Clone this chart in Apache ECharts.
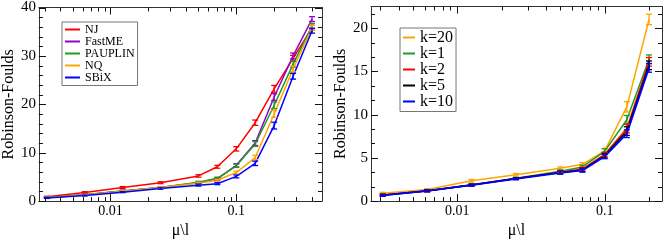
<!DOCTYPE html>
<html>
<head>
<meta charset="utf-8">
<script src="https://cdn.jsdelivr.net/npm/echarts@6/dist/echarts.min.js"></script>
<style>html,body{margin:0;padding:0;background:#fff}#c{width:664px;height:244px}</style>
</head>
<body>
<div id="c"></div>
<script>
// ---- Left panel data ----
const xLeft = [0.003125, 0.00625, 0.0125, 0.025, 0.05, 0.0707, 0.1, 0.1414, 0.2, 0.2828, 0.4];
const njY      = [0.9, 1.8, 2.8, 3.8, 5.2, 7.1, 10.8, 16.2, 23.2, 29.5, 35.8];
const njErr    = [0.1, 0.15, 0.2, 0.2, 0.25, 0.3, 0.45, 0.55, 0.7, 0.6, 0.5];
const fastmeY  = [0.75, 1.3, 2.1, 2.8, 3.8, 4.6, 7.4, 12.0, 21.5, 30.0, 37.6];
const fastmeErr= [0.1, 0.1, 0.15, 0.15, 0.2, 0.25, 0.35, 0.5, 0.7, 0.6, 0.5];
const paupY    = [0.75, 1.3, 2.1, 2.8, 3.9, 4.7, 7.3, 11.8, 19.8, 28.3, 36.2];
const paupErr  = [0.1, 0.1, 0.15, 0.15, 0.2, 0.25, 0.35, 0.5, 0.7, 0.6, 0.5];
const nqY      = [0.7, 1.25, 2.0, 2.8, 3.7, 4.3, 5.9, 9.0, 18.0, 27.3, 35.8];
const nqErr    = [0.1, 0.1, 0.15, 0.15, 0.2, 0.2, 0.3, 0.45, 0.7, 0.6, 0.5];
const sbixY    = [0.65, 1.15, 1.85, 2.6, 3.3, 3.6, 5.1, 7.8, 15.6, 25.8, 35.2];
const sbixErr  = [0.1, 0.1, 0.1, 0.15, 0.2, 0.2, 0.3, 0.45, 0.7, 0.6, 0.5];
const leftNames = ['NJ', 'FastME', 'PAUPLIN', 'NQ', 'SBiX'];

// ---- Right panel data ----
const xRight = [0.003125, 0.00625, 0.0125, 0.025, 0.05, 0.0707, 0.1, 0.1414, 0.2];
const k20Y   = [0.92, 1.35, 2.35, 3.05, 3.8, 4.25, 5.8, 10.9, 21.0];
const k20Err = [0.1, 0.1, 0.15, 0.15, 0.15, 0.2, 0.3, 0.6, 0.6];
const k1Y    = [0.72, 1.2, 1.9, 2.65, 3.45, 3.95, 5.75, 9.4, 16.4];
const k1Err  = [0.1, 0.1, 0.1, 0.1, 0.15, 0.2, 0.3, 0.5, 0.5];
const k2Y    = [0.7, 1.2, 1.85, 2.6, 3.35, 3.7, 5.4, 8.4, 16.1];
const k2Err  = [0.1, 0.1, 0.1, 0.1, 0.15, 0.2, 0.25, 0.5, 0.5];
const k5Y    = [0.68, 1.18, 1.85, 2.6, 3.3, 3.6, 5.25, 8.1, 15.7];
const k5Err  = [0.1, 0.1, 0.1, 0.1, 0.15, 0.2, 0.25, 0.5, 0.5];
const k10Y   = [0.65, 1.18, 1.84, 2.57, 3.27, 3.55, 5.15, 7.8, 15.4];
const k10Err = [0.1, 0.1, 0.1, 0.1, 0.15, 0.2, 0.25, 0.45, 0.5];
const rightNames = ['k=20', 'k=1', 'k=2', 'k=5', 'k=10'];

// ---- Axis ranges & tick values ----
const xRangeLeft = [0.0027, 0.48];
const xRangeRight = [0.0026, 0.245];
const yRangeLeft = [0, 40];
const yRangeRight = [0, 22.5];
const xMajor = [0.01, 0.1];
const xMinorLeft = [0.003,0.004,0.005,0.006,0.007,0.008,0.009,0.02,0.03,0.04,0.05,0.06,0.07,0.08,0.09,0.2,0.3,0.4];
const xMinorRight = [0.003,0.004,0.005,0.006,0.007,0.008,0.009,0.02,0.03,0.04,0.05,0.06,0.07,0.08,0.09,0.2];
const yMajorLeft = [0, 10, 20, 30, 40];
const yMinorLeft = [2,4,6,8,12,14,16,18,22,24,26,28,32,34,36,38];
const yMajorRight = [0, 5, 10, 15, 20];
const yMinorRight = [1.667,3.333,6.667,8.333,11.667,13.333,16.667,18.333,21.667];

const FONT = 'Liberation Serif';
const TICKC = '#111';
const AXLINE = {show:true, onZero:false, lineStyle:{color:'#333', width:1}};

function xAxesFor(g, range) {
  const base = {type:'log', gridIndex:g, min:range[0], max:range[1], splitLine:{show:false},
    axisLine:AXLINE, axisTick:{show:false}};
  return [
    Object.assign({}, base, {position:'bottom',
      axisLabel:{customValues:xMajor, margin:3, fontFamily:FONT, fontSize:14, color:'#000',
        formatter:function(v){return String(v);}},
      name:'μ\\l', nameLocation:'middle', nameGap:15,
      nameTextStyle:{fontFamily:FONT, fontSize:16, color:'#000'}}),
    Object.assign({}, base, {position:'top', axisLabel:{show:false}})
  ];
}
function yAxesFor(g, range, major, nameGap) {
  const base = {type:'value', gridIndex:g, min:range[0], max:range[1],
    splitLine:{show:false}, axisLine:AXLINE, axisTick:{show:false}};
  return [
    Object.assign({}, base, {position:'left',
      axisLabel:{customValues:major, margin:3, fontFamily:FONT, fontSize:15, color:'#000'},
      name:'Robinson-Foulds', nameLocation:'middle', nameGap:nameGap,
      nameTextStyle:{fontFamily:FONT, fontSize:16, color:'#000'}}),
    Object.assign({}, base, {position:'right', axisLabel:{show:false}})
  ];
}

// Major + minor ticks on all four sides, placed through the axes' own scales
function tickSeries(xi, yi, xMaj, xMin, yMaj, yMin, xRange, yRange) {
  const data = [].concat(
    xMaj.map(v => [v, yRange[0], 0, 7]),
    xMin.map(v => [v, yRange[0], 0, 4]),
    yMaj.map(v => [xRange[0], v, 1, 7]),
    yMin.map(v => [xRange[0], v, 1, 4])
  );
  return {type:'custom', xAxisIndex:xi, yAxisIndex:yi, silent:true, z:10, clip:false,
    data:data, encode:{x:0, y:1},
    renderItem:function(params, api){
      const kind = api.value(2), L = api.value(3);
      const st = {stroke:TICKC, lineWidth:1};
      if (kind === 0) {
        const v = api.value(0);
        const b = api.coord([v, yRange[0]]), t = api.coord([v, yRange[1]]);
        const x = Math.round(b[0]) + 0.5;
        return {type:'group', children:[
          {type:'line', shape:{x1:x, y1:b[1], x2:x, y2:b[1]-L}, style:st},
          {type:'line', shape:{x1:x, y1:t[1], x2:x, y2:t[1]+L}, style:st}
        ]};
      } else {
        const v = api.value(1);
        const l = api.coord([xRange[0], v]), r = api.coord([xRange[1], v]);
        const y = Math.round(l[1]) + 0.5;
        return {type:'group', children:[
          {type:'line', shape:{x1:l[0], y1:y, x2:l[0]+L, y2:y}, style:st},
          {type:'line', shape:{x1:r[0], y1:y, x2:r[0]-L, y2:y}, style:st}
        ]};
      }
    }};
}

function makeSeries(name, xs, ys, errs, color, xi, yi, width) {
  const lineData = xs.map((x, i) => [x, ys[i]]);
  const errData = xs.map((x, i) => [x, ys[i], errs[i]]);
  return [
    {type:'line', name:name, xAxisIndex:xi, yAxisIndex:yi, data:lineData, showSymbol:false,
      symbol:'none', color:color, lineStyle:{color:color, width:width}, z:2},
    {type:'custom', name:name + ' err', xAxisIndex:xi, yAxisIndex:yi, data:errData,
      encode:{x:0, y:1}, z:3,
      renderItem:function(params, api){
        const x = api.value(0), y = api.value(1), e = api.value(2);
        const lo = api.coord([x, y - e]), hi = api.coord([x, y + e]);
        const w = 3;
        const st = {stroke:color, lineWidth:1.3, fill:null};
        return {type:'group', children:[
          {type:'line', shape:{x1:lo[0], y1:lo[1], x2:hi[0], y2:hi[1]}, style:st},
          {type:'line', shape:{x1:lo[0]-w, y1:lo[1], x2:lo[0]+w, y2:lo[1]}, style:st},
          {type:'line', shape:{x1:hi[0]-w, y1:hi[1], x2:hi[0]+w, y2:hi[1]}, style:st}
        ]};
      }}
  ];
}

const RED='#ff0000', PURPLE='#9400d3', GREEN='#1e9e1e', ORANGE='#ffa500', BLUE='#0000ff', BLACK='#000000';

const series = [].concat(
  [tickSeries(0, 0, xMajor, xMinorLeft, yMajorLeft, yMinorLeft, xRangeLeft, yRangeLeft),
   tickSeries(2, 2, xMajor, xMinorRight, yMajorRight, yMinorRight, xRangeRight, yRangeRight)],
  makeSeries('NJ', xLeft, njY, njErr, RED, 0, 0, 1.5),
  makeSeries('FastME', xLeft, fastmeY, fastmeErr, PURPLE, 0, 0, 1.5),
  makeSeries('PAUPLIN', xLeft, paupY, paupErr, GREEN, 0, 0, 1.5),
  makeSeries('NQ', xLeft, nqY, nqErr, ORANGE, 0, 0, 1.5),
  makeSeries('SBiX', xLeft, sbixY, sbixErr, BLUE, 0, 0, 1.5),
  makeSeries('k=20', xRight, k20Y, k20Err, ORANGE, 2, 2, 1.5),
  makeSeries('k=1', xRight, k1Y, k1Err, GREEN, 2, 2, 1.5),
  makeSeries('k=2', xRight, k2Y, k2Err, RED, 2, 2, 1.5),
  makeSeries('k=5', xRight, k5Y, k5Err, BLACK, 2, 2, 1.5),
  makeSeries('k=10', xRight, k10Y, k10Err, BLUE, 2, 2, 1.8)
);

const chart = echarts.init(document.getElementById('c'), null, {renderer:'canvas'});
chart.setOption({
  animation:false,
  backgroundColor:'#fff',
  grid:[
    {left:34, top:7, width:288, height:202},
    {left:371, top:6.5, width:291, height:204}
  ],
  xAxis:[].concat(xAxesFor(0, xRangeLeft), xAxesFor(1, xRangeRight)),
  yAxis:[].concat(yAxesFor(0, yRangeLeft, yMajorLeft, 17), yAxesFor(1, yRangeRight, yMajorRight, 21)),
  legend:[
    {data:leftNames, orient:'vertical', left:62, top:22, padding:[1.5,3,2,3], itemGap:0,
      itemWidth:15, itemHeight:2, icon:'rect', borderColor:'#777', borderWidth:1,
      textStyle:{fontFamily:FONT, fontSize:12, lineHeight:11.5, color:'#000'}},
    {data:rightNames, orient:'vertical', left:400, top:28, padding:[1.5,3,2,3], itemGap:0,
      itemWidth:12, itemHeight:2, icon:'rect', borderColor:'#777', borderWidth:1,
      textStyle:{fontFamily:FONT, fontSize:16, lineHeight:14.3, color:'#000'}}
  ],
  series:series
});
</script>
</body>
</html>
